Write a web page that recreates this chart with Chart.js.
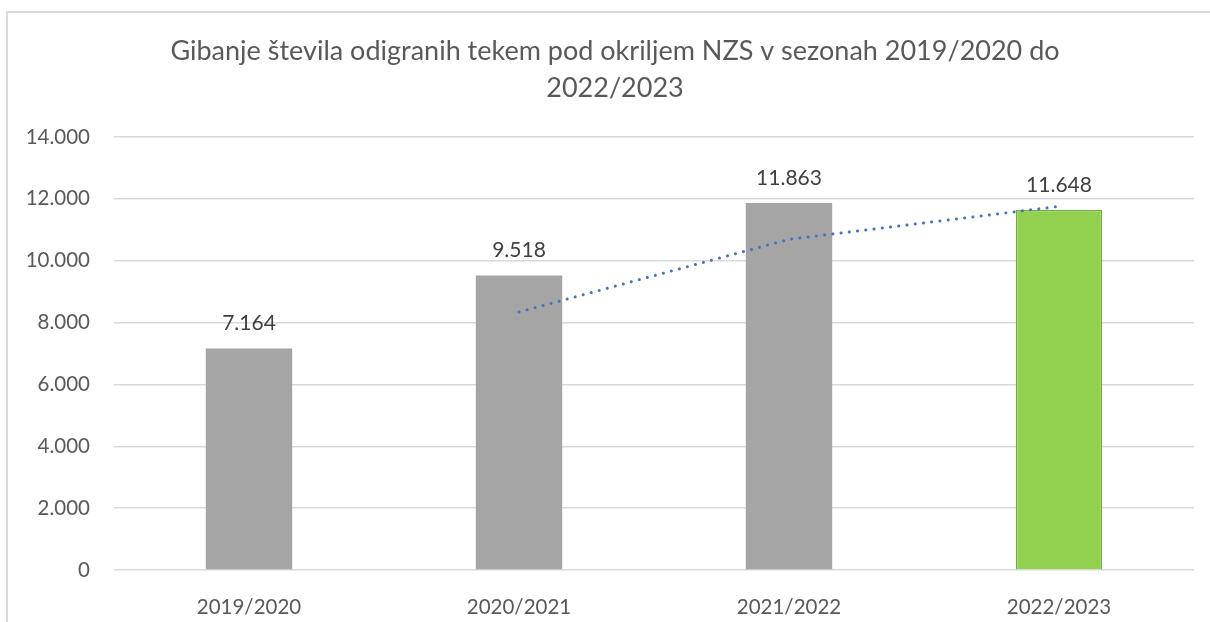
<!DOCTYPE html>
<html>
<head>
<meta charset="utf-8">
<script src="https://cdn.jsdelivr.net/npm/chart.js@4/dist/chart.umd.min.js"></script>
<style>
  html, body { margin: 0; padding: 0; background: #fff; }
  #wrap { position: relative; width: 1210px; height: 622px; overflow: hidden; }
  #frame { position: absolute; left: 6px; top: 11px; width: 1300px; height: 700px;
           border-top: 2px solid #D9D9D9; border-left: 2px solid #D9D9D9; box-sizing: border-box; }
  canvas { position: absolute; left: 0; top: 0; }
</style>
</head>
<body>
<div id="wrap">
  <div id="frame"></div>
  <canvas id="c" width="1210" height="622"></canvas>
</div>
<script>
const categories = ['2019/2020', '2020/2021', '2021/2022', '2022/2023'];
const matches = [7164, 9518, 11863, 11648];
const trendValues = [null, 8341, 10691, 11756];
const yTicks = [0, 2000, 4000, 6000, 8000, 10000, 12000, 14000];
const titleLines = ['Gibanje števila odigranih tekem pod okriljem NZS v sezonah 2019/2020 do', '2022/2023'];
const barColors = ['#A5A5A5', '#A5A5A5', '#A5A5A5', '#92D050'];
const barBorders = ['#A5A5A5', '#A5A5A5', '#A5A5A5', '#70AD47'];
const barBorderWidths = [0, 0, 0, 1.5];

function fmt(v) {
  return String(Math.round(v)).replace(/\B(?=(\d{3})+(?!\d))/g, '.');
}

const FONT = 'Lato, "Noto Sans", sans-serif';

const titlePlugin = {
  id: 'customTitle',
  afterDraw(chart) {
    const ctx = chart.ctx;
    ctx.save();
    ctx.font = '27px ' + FONT;
    ctx.fillStyle = '#595959';
    ctx.textAlign = 'center';
    ctx.textBaseline = 'middle';
    titleLines.forEach((line, i) => ctx.fillText(line, 615, 51 + i * 37));
    ctx.restore();
  }
};

const labelPlugin = {
  id: 'barLabels',
  afterDatasetsDraw(chart) {
    const ctx = chart.ctx;
    const meta = chart.getDatasetMeta(0);
    ctx.save();
    ctx.font = '21px ' + FONT;
    ctx.fillStyle = '#404040';
    ctx.textAlign = 'center';
    ctx.textBaseline = 'middle';
    meta.data.forEach((bar, i) => {
      ctx.fillText(fmt(matches[i]), bar.x, bar.y - 25);
    });
    ctx.restore();
  }
};

new Chart(document.getElementById('c'), {
  type: 'bar',
  data: {
    labels: categories,
    datasets: [
      {
        type: 'bar',
        data: matches,
        backgroundColor: barColors,
        borderColor: barBorders,
        borderWidth: barBorderWidths,
        barPercentage: 0.32,
        categoryPercentage: 1,
        order: 1
      },
      {
        type: 'line',
        data: trendValues,
        borderColor: '#4472C4',
        borderWidth: 3,
        borderDash: [0.1, 8.2],
        borderCapStyle: 'round',
        pointRadius: 0,
        tension: 0,
        fill: false,
        order: 0
      }
    ]
  },
  options: {
    responsive: false,
    animation: false,
    events: [],
    layout: { padding: { left: 0, right: 16, top: 137, bottom: 0 } },
    plugins: {
      legend: { display: false },
      tooltip: { enabled: false },
      title: { display: false }
    },
    scales: {
      x: {
        grid: { display: false },
        border: { display: false },
        ticks: { color: '#595959', font: { family: FONT, size: 20.5 }, padding: 17 },
        afterFit(scale) { scale.height = 52; }
      },
      y: {
        min: 0,
        max: 14000,
        afterBuildTicks(scale) { scale.ticks = yTicks.map(v => ({ value: v })); },
        grid: { color: '#D9D9D9', lineWidth: 1.5, drawTicks: false },
        border: { display: false },
        ticks: {
          color: '#595959',
          font: { family: FONT, size: 20.5 },
          padding: 24,
          callback: (v) => fmt(v)
        },
        afterFit(scale) { scale.width = 114; }
      }
    }
  },
  plugins: [labelPlugin, titlePlugin]
});
</script>
</body>
</html>
